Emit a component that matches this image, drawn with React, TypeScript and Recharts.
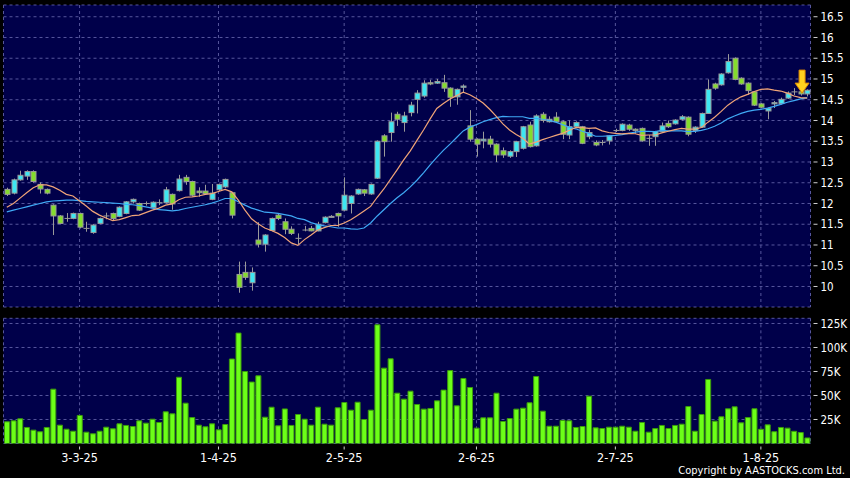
import React from 'react';
import {
  ComposedChart,
  Bar,
  Line,
  XAxis,
  YAxis,
  CartesianGrid,
  ReferenceDot,
} from 'recharts';

// daily candles (index 0 = first session shown)
const open = [
  12.34, 12.25, 12.57, 12.66, 12.77, 12.46, 12.34, 11.96, 11.70, 11.64,
  11.64, 11.76, 11.40, 11.30, 11.52, 11.70, 11.76, 11.69, 11.76, 12.04,
  12.00, 12.00, 11.90, 12.02, 12.02, 12.22, 12.31, 12.63, 12.53, 12.30,
  12.30, 12.10, 12.33, 12.40, 12.26, 10.29, 10.34, 10.09, 11.12, 11.02,
  11.35, 11.72, 11.56, 11.38, 11.16, 11.36, 11.40, 11.34, 11.54, 11.68,
  11.76, 11.84, 12.00, 12.23, 12.33, 12.23, 12.61, 13.63, 13.71, 14.15,
  13.95, 14.19, 14.51, 14.59, 14.91, 14.90, 14.91, 14.78, 14.57, 14.80,
  13.87, 13.55, 13.51, 13.55, 13.43, 13.27, 13.14, 13.25, 13.33, 13.89,
  13.39, 14.15, 13.97, 14.08, 13.97, 13.65, 13.85, 13.85, 13.61, 13.47,
  13.47, 13.51, 13.76, 13.76, 13.89, 13.79, 13.81, 13.57, 13.61, 13.73,
  13.93, 13.92, 14.03, 14.08, 13.76, 13.84, 14.17, 14.88, 14.86, 15.15,
  15.50, 15.02, 14.90, 14.69, 14.40, 14.23, 14.40, 14.41, 14.54, 14.69,
  14.69, 14.64,
];
const high = [
  12.38, 12.60, 12.79, 12.80, 12.80, 12.51, 12.36, 11.98, 11.72, 11.77,
  11.78, 11.78, 11.56, 11.50, 11.66, 11.78, 11.78, 11.93, 12.06, 12.12,
  12.02, 12.05, 12.05, 12.10, 12.40, 12.24, 12.69, 12.69, 12.55, 12.39,
  12.45, 12.47, 12.48, 12.60, 12.28, 10.60, 10.60, 10.46, 11.55, 11.26,
  11.66, 11.76, 11.64, 11.45, 11.28, 11.46, 11.46, 11.56, 11.69, 11.72,
  11.78, 12.63, 12.20, 12.36, 12.35, 12.48, 13.52, 13.67, 14.19, 14.21,
  14.21, 14.45, 14.73, 14.97, 14.98, 15.00, 15.10, 14.80, 14.77, 14.87,
  14.25, 13.57, 13.73, 13.63, 13.45, 13.35, 13.28, 13.51, 13.87, 13.97,
  14.15, 14.20, 14.10, 14.20, 14.00, 14.00, 13.98, 13.87, 13.78, 13.52,
  13.53, 13.65, 13.80, 13.93, 13.92, 13.81, 13.83, 13.65, 13.75, 13.95,
  14.00, 14.03, 14.13, 14.10, 13.86, 14.19, 14.99, 14.91, 15.14, 15.60,
  15.52, 15.04, 14.92, 14.71, 14.42, 14.31, 14.47, 14.55, 14.70, 14.78,
  14.72, 14.75,
];
const low = [
  12.18, 12.22, 12.55, 12.57, 12.50, 12.24, 12.22, 11.24, 11.50, 11.56,
  11.62, 11.40, 11.32, 11.27, 11.50, 11.62, 11.60, 11.67, 11.74, 12.00,
  11.82, 11.95, 11.88, 11.96, 12.00, 11.85, 12.29, 12.45, 12.18, 12.16,
  12.22, 12.08, 12.30, 12.37, 11.64, 9.85, 10.16, 9.90, 10.94, 10.84,
  11.33, 11.60, 11.26, 11.24, 11.02, 11.33, 11.33, 11.33, 11.52, 11.66,
  11.44, 11.82, 11.76, 12.21, 12.18, 12.21, 12.59, 13.13, 13.49, 13.87,
  13.73, 14.10, 14.17, 14.55, 14.85, 14.88, 14.69, 14.33, 14.38, 14.67,
  13.49, 13.13, 13.33, 13.35, 13.00, 13.10, 13.10, 13.12, 13.30, 13.35,
  13.37, 13.95, 13.95, 13.95, 13.55, 13.55, 13.82, 13.43, 13.55, 13.38,
  13.40, 13.42, 13.72, 13.74, 13.75, 13.68, 13.49, 13.39, 13.39, 13.70,
  13.82, 13.90, 14.00, 13.62, 13.70, 13.82, 14.16, 14.74, 14.84, 15.13,
  14.97, 14.86, 14.62, 14.35, 14.30, 14.03, 14.30, 14.38, 14.52, 14.61,
  14.60, 14.58,
];
const close = [
  12.22, 12.57, 12.68, 12.77, 12.53, 12.35, 12.25, 11.70, 11.52, 11.64,
  11.76, 11.43, 11.40, 11.48, 11.64, 11.70, 11.64, 11.91, 12.04, 12.10,
  11.84, 12.00, 12.03, 12.02, 12.33, 11.99, 12.59, 12.53, 12.20, 12.26,
  12.24, 12.25, 12.46, 12.58, 11.72, 9.98, 10.22, 10.34, 11.02, 11.24,
  11.64, 11.64, 11.38, 11.28, 11.16, 11.36, 11.34, 11.50, 11.67, 11.69,
  11.70, 12.20, 12.18, 12.34, 12.25, 12.46, 13.50, 13.49, 13.97, 14.03,
  14.11, 14.37, 14.66, 14.90, 14.88, 14.94, 14.78, 14.56, 14.75, 14.83,
  13.55, 13.43, 13.55, 13.43, 13.17, 13.17, 13.25, 13.49, 13.85, 13.37,
  14.11, 14.00, 14.03, 13.97, 13.67, 13.85, 13.95, 13.45, 13.71, 13.41,
  13.47, 13.63, 13.76, 13.91, 13.79, 13.76, 13.51, 13.57, 13.73, 13.87,
  13.85, 14.01, 14.09, 13.67, 13.84, 14.17, 14.75, 14.78, 15.12, 15.42,
  14.99, 14.88, 14.72, 14.37, 14.32, 14.29, 14.43, 14.51, 14.66, 14.69,
  14.64, 14.73,
];
// volume in thousands of shares
const volume = [
  22.6, 23.6, 25.7, 16.7, 13.9, 12.2, 16.7, 56.6, 19.1, 14.9,
  12.8, 29.2, 11.8, 10.1, 12.8, 17, 15.3, 20.5, 18.8, 17.7,
  23.6, 21.2, 25.3, 21.9, 33, 30.9, 69, 42, 27, 19.1,
  17.4, 20.5, 14.2, 19.8, 88, 115, 75, 64, 70.5, 27.4,
  37.8, 18.4, 36, 18.8, 30.2, 25.3, 19.1, 37.8, 20.1, 19.1,
  37.2, 42.7, 34.7, 43, 25, 34.7, 123.6, 78.5, 88.2, 52.4,
  46.2, 54.5, 40.6, 35.8, 36.5, 44.4, 55.6, 76, 39.2, 67.7,
  58.3, 16, 26.7, 26.7, 52.4, 22.9, 26, 35.8, 36.8, 42.4,
  69.8, 33.7, 18, 18, 24, 23.6, 16.7, 17.7, 49.3, 16.3,
  15.6, 17, 17, 18, 17, 12.8, 21.9, 11.8, 15.6, 18.8,
  15.6, 18.8, 20.1, 38.5, 12.8, 30.2, 66.7, 23.3, 27.8, 36.1,
  38.2, 21.5, 27, 36.2, 14.8, 19.4, 12.3, 16.7, 16, 12.7,
  11.4, 5.8,
];
// moving averages as drawn (orange = 10 day, blue = 20 day)
const ma10 = [
  11.91, 12.00, 12.13, 12.26, 12.38, 12.45, 12.45, 12.40, 12.32, 12.22,
  12.18, 12.06, 11.94, 11.81, 11.72, 11.65, 11.59, 11.61, 11.66, 11.71,
  11.72, 11.78, 11.84, 11.89, 11.96, 11.99, 12.09, 12.15, 12.16, 12.18,
  12.22, 12.24, 12.29, 12.34, 12.28, 12.08, 11.84, 11.63, 11.51, 11.41,
  11.35, 11.28, 11.18, 11.05, 10.99, 11.13, 11.24, 11.36, 11.42, 11.47,
  11.47, 11.53, 11.61, 11.71, 11.82, 11.93, 12.15, 12.35, 12.58, 12.81,
  13.05, 13.27, 13.52, 13.77, 14.04, 14.29, 14.41, 14.52, 14.60, 14.68,
  14.62, 14.53, 14.42, 14.27, 14.10, 13.92, 13.77, 13.66, 13.57, 13.43,
  13.48, 13.54, 13.59, 13.64, 13.69, 13.76, 13.83, 13.83, 13.81, 13.82,
  13.75, 13.71, 13.69, 13.68, 13.69, 13.68, 13.64, 13.65, 13.65, 13.70,
  13.74, 13.78, 13.81, 13.79, 13.79, 13.83, 13.96, 14.08, 14.22, 14.37,
  14.48, 14.57, 14.63, 14.70, 14.75, 14.76, 14.73, 14.71, 14.66, 14.59,
  14.55, 14.54,
];
const ma20 = [
  11.80, 11.84, 11.88, 11.92, 11.96, 12.00, 12.04, 12.06, 12.07, 12.08,
  12.08, 12.07, 12.05, 12.04, 12.03, 12.02, 12.01, 12.00, 11.98, 11.97,
  11.95, 11.92, 11.89, 11.85, 11.84, 11.82, 11.84, 11.88, 11.91, 11.94,
  11.97, 12.01, 12.06, 12.12, 12.12, 12.04, 11.96, 11.89, 11.84, 11.79,
  11.78, 11.76, 11.73, 11.70, 11.64, 11.61, 11.54, 11.49, 11.46, 11.44,
  11.41, 11.41, 11.39, 11.38, 11.41, 11.53, 11.70, 11.85, 12.00, 12.14,
  12.26, 12.40, 12.56, 12.74, 12.93, 13.11, 13.28, 13.43, 13.59, 13.75,
  13.84, 13.90, 13.97, 14.02, 14.07, 14.10, 14.09, 14.09, 14.09, 14.05,
  14.05, 14.03, 14.00, 13.96, 13.90, 13.84, 13.80, 13.74, 13.69, 13.62,
  13.62, 13.63, 13.64, 13.66, 13.69, 13.72, 13.74, 13.74, 13.73, 13.76,
  13.75, 13.75, 13.75, 13.73, 13.74, 13.76, 13.80, 13.86, 13.94, 14.04,
  14.11, 14.17, 14.22, 14.25, 14.27, 14.30, 14.34, 14.39, 14.44, 14.48,
  14.52, 14.55,
];

const dateTickIdx = [11, 32, 51, 71, 92, 114];
const dateTickLabels = ['3-3-25', '1-4-25', '2-5-25', '2-6-25', '2-7-25', '1-8-25'];
const priceTicks = [10, 10.5, 11, 11.5, 12, 12.5, 13, 13.5, 14, 14.5, 15, 15.5, 16, 16.5];
const volumeTicks = [25, 50, 75, 100, 125];
const markerIdx = 120;
const markerPrice = 14.66;

const data = open.map((o, i) => ({
  i,
  open: o,
  high: high[i],
  low: low[i],
  close: close[i],
  vol: volume[i],
  ma10: ma10[i],
  ma20: ma20[i],
}));

const FONT = '"DejaVu Sans Condensed", "DejaVu Sans", sans-serif';
const NAVY = '#00004a';
const GRID = '#56569c';
const UP = '#3ee6f2';
const DOWN = '#84dc2c';
const EDGE = '#9a9a9a';

function Candle(props: any) {
  const { x, y, width, height, payload } = props;
  const { open: o, close: c, high: h, low: l } = payload;
  const top = Math.min(y, y + height);
  const bottom = Math.max(y, y + height);
  const span = h - l || 1;
  const py = (v: number) => top + ((h - v) / span) * (bottom - top);
  const cx = Math.round(x + width / 2) + 0.5;
  const bodyTop = py(Math.max(o, c));
  const bodyBot = py(Math.min(o, c));
  const fill = c > o ? UP : c < o ? DOWN : EDGE;
  return (
    <g>
      <line x1={cx} x2={cx} y1={top} y2={bottom} stroke={EDGE} strokeWidth={1} />
      {c === o ? (
        <line x1={cx - 3} x2={cx + 3} y1={bodyTop} y2={bodyTop} stroke={EDGE} strokeWidth={1} />
      ) : (
        <rect
          x={cx - 2.5}
          y={bodyTop}
          width={5}
          height={Math.max(bodyBot - bodyTop, 1)}
          fill={fill}
          stroke={EDGE}
          strokeWidth={1}
        />
      )}
    </g>
  );
}

function Arrow(props: any) {
  const { cx, cy } = props;
  const x = cx + 1.5;
  const d = `M${x - 3},${cy - 23} L${x + 3},${cy - 23} L${x + 3},${cy - 10} L${x + 7},${cy - 10} L${x},${cy} L${x - 7},${cy - 10} L${x - 3},${cy - 10} Z`;
  return <path d={d} fill="#ffd21f" stroke="#e08a00" strokeWidth={1} />;
}

function RightTick(props: any) {
  const { x, y, payload, suffix } = props;
  return (
    <g>
      <line x1={x + 3} x2={x + 7} y1={y} y2={y} stroke="#d0d0d0" strokeWidth={1} />
      <text
        x={x + 10}
        y={y + 4.2}
        fill="#ffffff"
        fontSize={11.5}
        fontFamily={FONT}
        style={{ fontStretch: 'condensed' }}
      >
        {`${payload.value}${suffix || ''}`}
      </text>
    </g>
  );
}

function DateTick(props: any) {
  const { x, y, payload } = props;
  const label = dateTickLabels[dateTickIdx.indexOf(payload.value)];
  return (
    <g>
      <line x1={x} x2={x} y1={y + 3} y2={y + 6} stroke="#d0d0d0" strokeWidth={1} />
      <text
        x={x}
        y={y + 18.5}
        textAnchor="middle"
        fill="#ffffff"
        fontSize={12.5}
        fontFamily={FONT}
        style={{ fontStretch: 'condensed' }}
      >
        {label}
      </text>
    </g>
  );
}

export default function App() {
  return (
    <div
      style={{
        position: 'absolute',
        left: 0,
        top: 0,
        width: 850,
        height: 478,
        background: '#000',
        overflow: 'hidden',
      }}
    >
      <div style={{ position: 'absolute', left: 0, top: 0 }}>
        <ComposedChart
          width={850}
          height={312}
          data={data}
          margin={{ top: 5, right: 0, bottom: 5, left: 3.5 }}
          barCategoryGap={0}
        >
          <CartesianGrid stroke={GRID} strokeDasharray="3 3" fill={NAVY} fillOpacity={1} />
          <XAxis dataKey="i" type="category" hide ticks={dateTickIdx} interval={0} />
          <YAxis
            orientation="right"
            width={39.5}
            domain={[9.506, 16.783]}
            allowDataOverflow
            ticks={priceTicks}
            interval={0}
            tickSize={0}
            tickMargin={0}
            axisLine={false}
            tickLine={false}
            tick={<RightTick />}
          />
          <Bar
            dataKey={(d: any) => [d.low, d.high]}
            shape={<Candle />}
            isAnimationActive={false}
          />
          <Line
            type="linear"
            dataKey="ma20"
            stroke="#3fa9f5"
            strokeWidth={1.2}
            dot={false}
            isAnimationActive={false}
          />
          <Line
            type="linear"
            dataKey="ma10"
            stroke="#f0a478"
            strokeWidth={1.2}
            dot={false}
            isAnimationActive={false}
          />
          <ReferenceDot x={markerIdx} y={markerPrice} r={0} shape={Arrow} />
        </ComposedChart>
      </div>
      <div style={{ position: 'absolute', left: 0, top: 312 }}>
        <ComposedChart
          width={850}
          height={166}
          data={data}
          margin={{ top: 6.3, right: 0, bottom: 0, left: 3.5 }}
        >
          <CartesianGrid stroke={GRID} strokeDasharray="3 3" fill={NAVY} fillOpacity={1} />
          <XAxis
            dataKey="i"
            type="category"
            ticks={dateTickIdx}
            interval={0}
            height={34.5}
            tickSize={0}
            tickMargin={0}
            axisLine={false}
            tickLine={false}
            tick={<DateTick />}
          />
          <YAxis
            orientation="right"
            width={39.5}
            domain={[0, 130.4]}
            allowDataOverflow
            ticks={volumeTicks}
            interval={0}
            tickSize={0}
            tickMargin={0}
            axisLine={false}
            tickLine={false}
            tick={<RightTick suffix="K" />}
          />
          <Bar
            dataKey="vol"
            barSize={5}
            fill="#6cff18"
            stroke="#3c9c0c"
            strokeWidth={1}
            isAnimationActive={false}
          />
        </ComposedChart>
      </div>
      <svg
        width={850}
        height={478}
        style={{ position: 'absolute', left: 0, top: 0, pointerEvents: 'none' }}
      >
        <text
          x={845}
          y={474}
          textAnchor="end"
          fill="#ffffff"
          fontSize={11}
          fontFamily={FONT}
          style={{ fontStretch: 'condensed' }}
        >
          Copyright by AASTOCKS.com Ltd.
        </text>
      </svg>
    </div>
  );
}
